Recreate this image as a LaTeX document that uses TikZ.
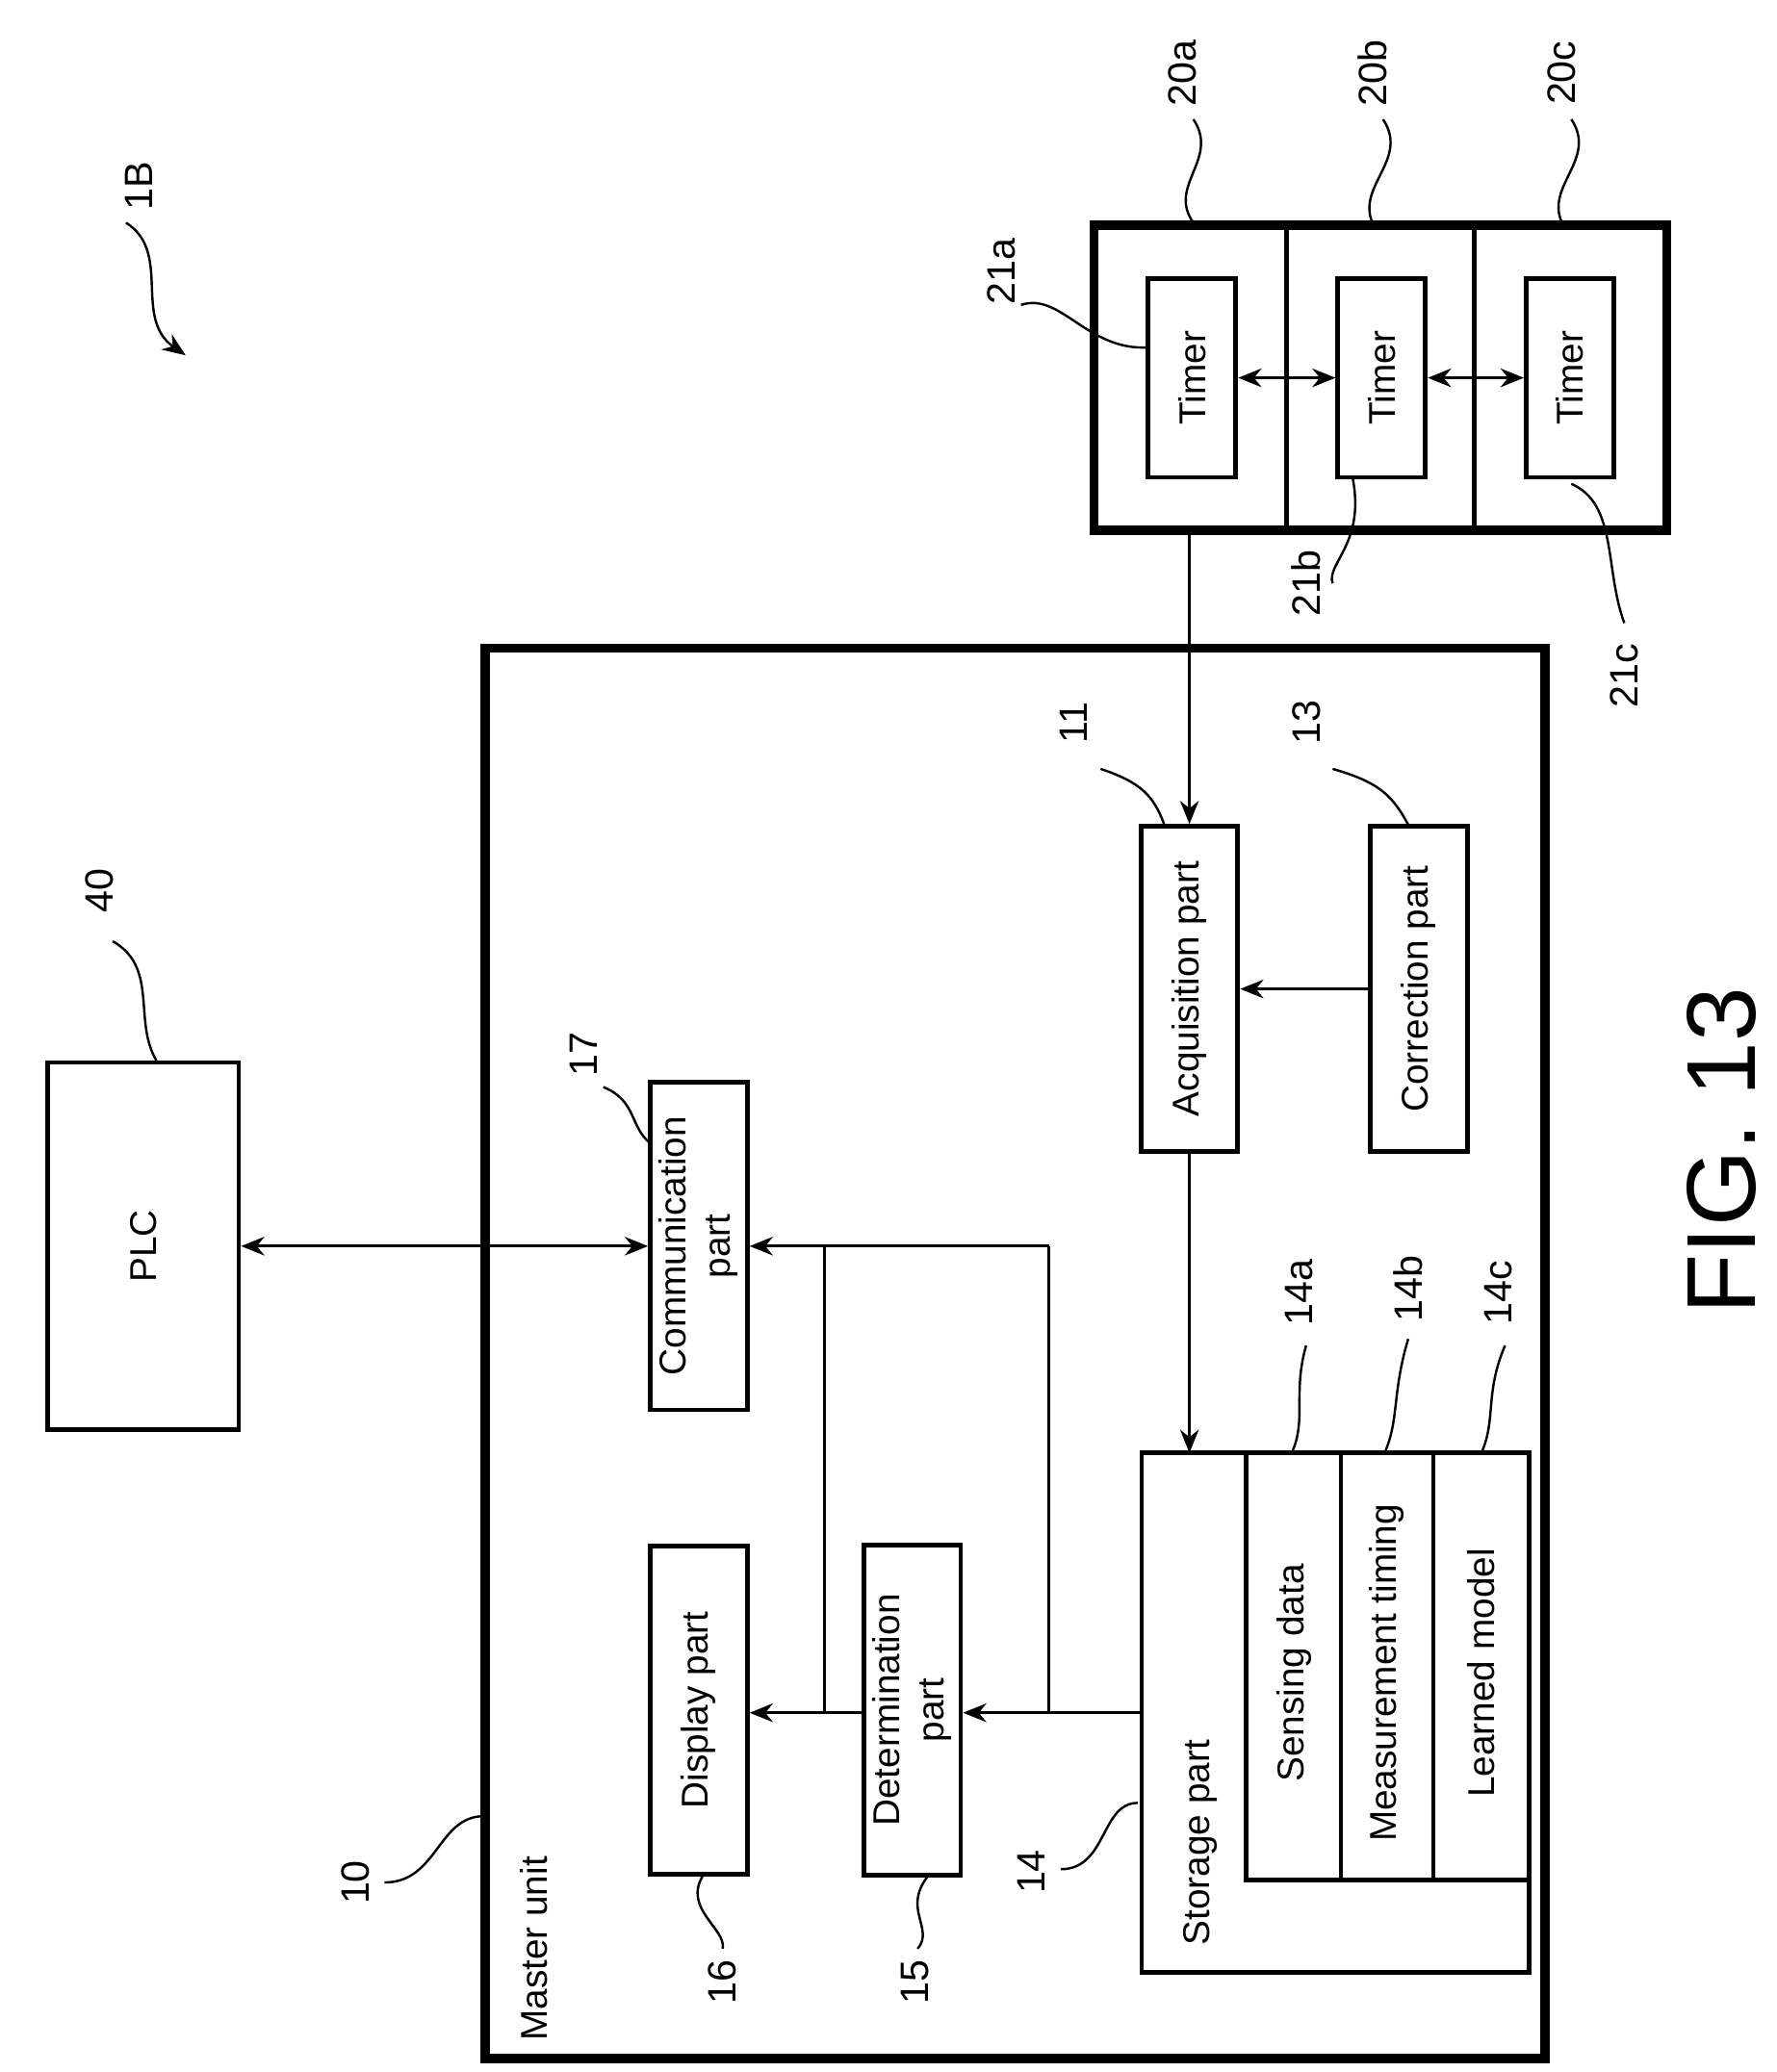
\documentclass[tikz,border=0pt]{standalone}
\usepackage{fontspec}
\setmainfont{Liberation Sans}
\usetikzlibrary{arrows.meta}
\begin{document}
\begin{tikzpicture}[x=0.01cm,y=-0.01cm,
  box/.style={draw,line width=1pt,inner sep=0pt},
  thk/.style={draw,line width=2pt},
  lab/.style={rotate=90,font=\fontsize{8}{9.5}\selectfont,align=center},
  num/.style={rotate=90,font=\fontsize{8.5}{10}\selectfont},
  ar/.style={-{Stealth[length=5pt,width=4pt]},line width=0.6pt},
  dar/.style={{Stealth[length=5pt,width=4pt]}-{Stealth[length=5pt,width=4pt]},line width=0.6pt},
  ld/.style={line width=0.5pt}]
\useasboundingbox (0,0) rectangle (1340,1563);
% master unit
\draw[thk] (366,489) rectangle (1165,1553);
\node[lab] (mu) at (403,1470) {Master unit};
% sensor units
\draw[thk] (825,170) rectangle (1257,400);
\draw[line width=1pt] (970,170)--(970,400) (1112,170)--(1112,400);
\coordinate (sb) at (897,400);
\node[box,minimum width=0.66cm,minimum height=1.5cm] (t1) at (899,285) {};
\node[box,minimum width=0.66cm,minimum height=1.5cm] (t2) at (1042,285) {};
\node[box,minimum width=0.66cm,minimum height=1.5cm] (t3) at (1184,285) {};
\foreach \t in {t1,t2,t3}{\node[lab] at (\t) {Timer};}
\draw[dar] (t1.east) -- (t2.west);
\draw[dar] (t2.east) -- (t3.west);
% acquisition / correction
\node[box,minimum width=0.73cm,minimum height=2.45cm] (acq) at (897,746) {};
\node[lab] at (acq) {Acquisition part};
\node[box,minimum width=0.73cm,minimum height=2.45cm] (cor) at (1070,746) {};
\node[lab] at (cor) {Correction part};
\draw[ar] (cor.west) -- (acq.east);
\draw[ar] (sb) -- (acq.north);
% storage
\draw[line width=1pt] (861,1096) rectangle (1153,1488);
\draw[line width=1pt] (940,1096) rectangle (1153,1418);
\draw[line width=0.8pt] (1011,1096)--(1011,1418) (1081,1096)--(1081,1418);
\coordinate (sttop) at (897,1096);
\coordinate (stl) at (861,1292);
\node[lab] at (905,1390) {Storage part};
\node[lab] at (976,1262) {Sensing data};
\node[lab] at (1046,1262) {Measurement timing};
\node[lab] at (1117,1262) {Learned model};
\draw[ar] (acq.south) -- (sttop);
% communication, display, determination
\node[box,minimum width=0.73cm,minimum height=2.47cm] (com) at (527,940) {};
\node[lab] at (com) {Communication\\part};
\node[box,minimum width=0.73cm,minimum height=2.47cm] (dis) at (527,1290) {};
\node[lab] at (dis) {Display part};
\node[box,minimum width=0.73cm,minimum height=2.49cm] (det) at (688,1290) {};
\node[lab] at (det) {Determination\\part};
\node[box,minimum width=1.44cm,minimum height=2.77cm] (plc) at (108,940) {};
\node[lab] at (plc) {PLC};
\draw[dar] (plc.east) -- (com.west);
\draw[ar] (stl) -- (det.east|-stl);
\draw[ar] (det.west|-stl) -- (dis.east|-stl);
\draw[line width=0.6pt] (791,1292) -- (791,940);
\draw[ar] (791,940) -- (com.east);
\draw[line width=0.6pt] (622,1292) -- (622,940);
% reference numerals
\node[num] at (105,140) {1B};
\draw[ld,-{Stealth[length=5pt,width=4pt]}] (95,168) .. controls (130,190) and (100,240) .. (140,268);
\node[num] at (892,55) {20a}; \draw[ld] (900,90) .. controls (920,120) and (880,140) .. (900,168);
\node[num] at (1035,55) {20b}; \draw[ld] (1043,90) .. controls (1063,120) and (1023,140) .. (1035,168);
\node[num] at (1178,55) {20c}; \draw[ld] (1185,90) .. controls (1205,120) and (1165,140) .. (1178,168);
\node[num] at (755,205) {21a}; \draw[ld] (770,230) .. controls (800,220) and (820,265) .. (866,262);
\node[num] at (985,440) {21b}; \draw[ld] (1020,360) .. controls (1030,410) and (1000,425) .. (1005,440);
\node[num] at (1225,510) {21c}; \draw[ld] (1185,365) .. controls (1220,380) and (1210,430) .. (1225,470);
\node[num] at (810,545) {11}; \draw[ld] (830,580) .. controls (860,590) and (870,600) .. (878,622);
\node[num] at (985,545) {13}; \draw[ld] (1005,580) .. controls (1040,590) and (1050,600) .. (1062,622);
\node[num] at (75,672) {40}; \draw[ld] (85,710) .. controls (120,730) and (100,770) .. (118,800);
\node[num] at (440,795) {17}; \draw[ld] (455,820) .. controls (480,830) and (475,850) .. (490,862);
\node[num] at (980,975) {14a}; \draw[ld] (985,1015) .. controls (975,1050) and (985,1070) .. (975,1094);
\node[num] at (1062,972) {14b}; \draw[ld] (1062,1010) .. controls (1050,1050) and (1055,1070) .. (1045,1094);
\node[num] at (1130,975) {14c}; \draw[ld] (1135,1015) .. controls (1120,1050) and (1128,1070) .. (1118,1094);
\node[num] at (268,1420) {10}; \draw[ld] (290,1420) .. controls (330,1420) and (330,1370) .. (365,1370);
\node[num] at (778,1412) {14}; \draw[ld] (800,1410) .. controls (835,1410) and (830,1360) .. (858,1360);
\node[num] at (690,1495) {15}; \draw[ld] (700,1415) .. controls (680,1440) and (705,1455) .. (692,1470);
\node[num] at (545,1495) {16}; \draw[ld] (530,1415) .. controls (515,1440) and (548,1455) .. (545,1470);
\node[rotate=90,font=\fontsize{21}{24}\selectfont] at (1298,868) {FIG. 13};
\end{tikzpicture}
\end{document}
